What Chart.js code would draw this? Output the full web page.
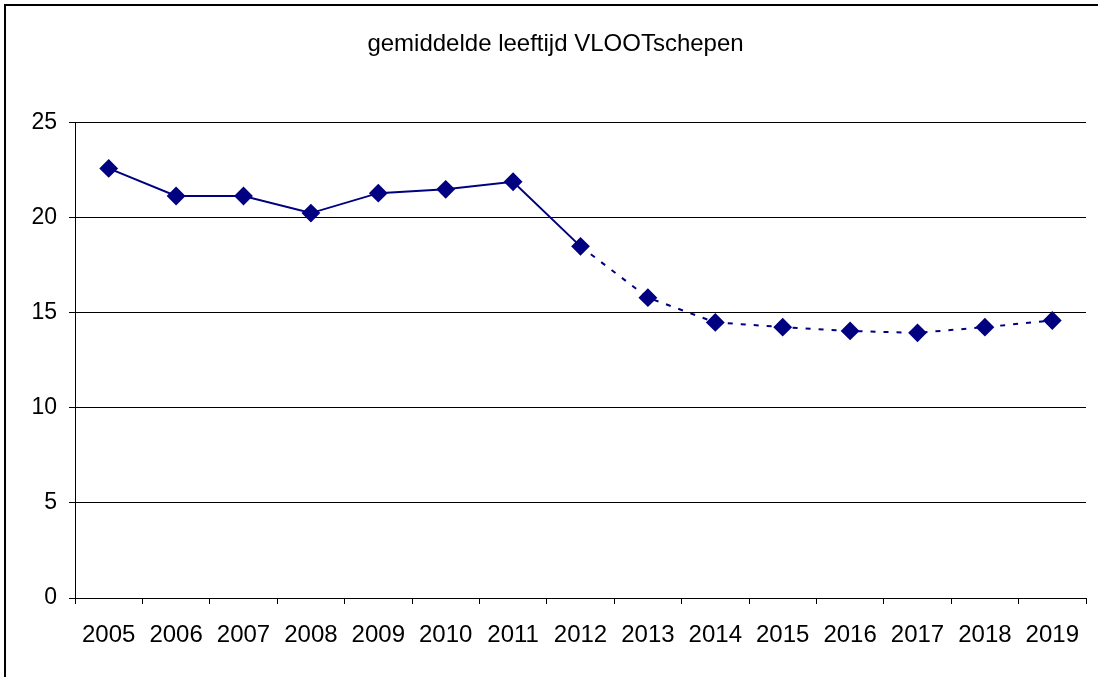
<!DOCTYPE html>
<html>
<head>
<meta charset="utf-8">
<script src="https://cdn.jsdelivr.net/npm/chart.js@4"></script>
<style>
  body { margin: 0; background: #fff; }
  #wrap { width: 1098px; height: 677px; }
</style>
</head>
<body>
<div id="wrap"><canvas id="c" width="1098" height="677"></canvas></div>
<script>
// data
const years = ["2005", "2006", "2007", "2008", "2009", "2010", "2011", "2012", "2013", "2014", "2015", "2016", "2017", "2018", "2019"];
const avgAge = [22.6, 21.15, 21.15, 20.25, 21.3, 21.5, 21.9, 18.5, 15.8, 14.5, 14.25, 14.05, 13.95, 14.25, 14.6];
const yTicks = [0, 5, 10, 15, 20, 25];
const lastSolid = 7; // line turns dotted after 2012

const navy = '#000080';

// outer frame (only top and left edges show)
const framePlugin = {
    id: 'frame',
    beforeDraw(chart) {
        const ctx = chart.ctx;
        ctx.save();
        ctx.fillStyle = '#fff';
        ctx.fillRect(0, 0, chart.width, chart.height);
        ctx.strokeStyle = '#000';
        ctx.lineWidth = 2;
        ctx.beginPath();
        ctx.moveTo(5, chart.height);
        ctx.lineTo(5, 5);
        ctx.lineTo(chart.width, 5);
        ctx.stroke();
        ctx.restore();
    }
};

const ctx = document.getElementById('c').getContext('2d');
new Chart(ctx, {
    type: 'line',
    data: {
        labels: years,
        datasets: [{
            data: avgAge,
            borderColor: navy,
            backgroundColor: navy,
            borderWidth: 2,
            pointStyle: 'rectRot',
            pointRadius: 8,
            pointHoverRadius: 8,
            tension: 0,
            segment: {
                borderDash: c => c.p0DataIndex >= lastSolid ? [5, 8] : undefined
            }
        }]
    },
    options: {
        responsive: false,
        animation: false,
        layout: { padding: { left: 25, right: 12, top: 0, bottom: 0 } },
        plugins: {
            legend: { display: false },
            tooltip: { enabled: false },
            title: {
                display: true,
                text: 'gemiddelde leeftijd VLOOTschepen',
                color: '#000',
                font: { family: 'Liberation Sans, Arial', size: 24, weight: 'normal' },
                padding: { top: 30, bottom: 64 }
            }
        },
        scales: {
            x: {
                offset: true,
                grid: {
                    offset: true,
                    drawOnChartArea: false,
                    drawTicks: true,
                    tickLength: 6,
                    color: '#000'
                },
                border: { color: '#000', width: 1 },
                ticks: {
                    color: '#000',
                    font: { family: 'Liberation Sans, Arial', size: 24 },
                    padding: 17,
                    maxRotation: 0,
                    autoSkip: false
                },
                afterFit: s => { s.height = 79; }
            },
            y: {
                min: 0,
                max: 25,
                afterBuildTicks: s => { s.ticks = yTicks.map(v => ({ value: v })); },
                grid: {
                    color: '#000',
                    tickLength: 6,
                    lineWidth: 1
                },
                border: { color: '#000', width: 1 },
                ticks: {
                    color: '#000',
                    font: { family: 'Liberation Sans, Arial', size: 23 },
                    padding: 12
                },
                afterFit: s => { s.width = 50; }
            }
        }
    },
    plugins: [framePlugin]
});
</script>
</body>
</html>
